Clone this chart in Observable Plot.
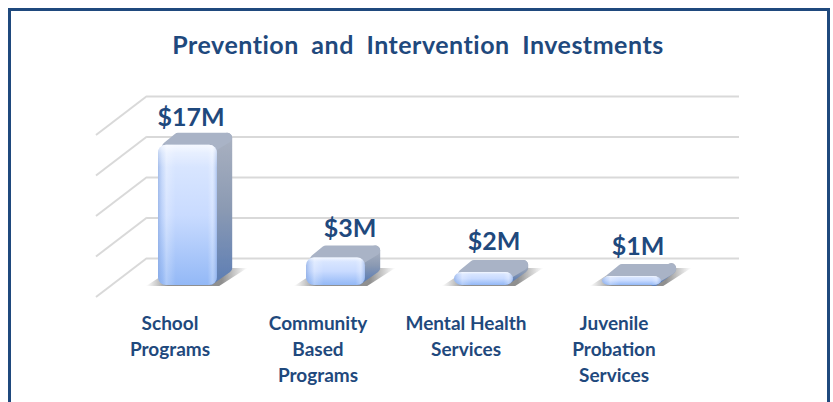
<!DOCTYPE html>
<html><head><meta charset="utf-8">
<script src="https://cdn.jsdelivr.net/npm/d3@7"></script>
<script src="https://cdn.jsdelivr.net/npm/@observablehq/plot@0.6"></script>
<style>
html,body{margin:0;padding:0;background:#fff;overflow:hidden;width:833px;height:402px}
#frame{position:absolute;left:8px;top:8px;width:816px;height:420px;border:3px solid #1f497d;box-sizing:content-box}
#title{position:absolute;left:0;width:836px;top:29px;text-align:center;font:bold 25px Lato,sans-serif;color:#1f497d;word-spacing:6px;letter-spacing:.5px}
#chart{position:absolute;left:0;top:0}
#chart svg{background:transparent;display:block}
</style></head>
<body>
<div id="frame"></div>
<div id="title">Prevention and Intervention Investments</div>
<div id="chart"></div>
<script>
const categories = ["School Programs","Community Based Programs","Mental Health Services","Juvenile Probation Services"];
const tickLabels = ["School\nPrograms","Community\nBased\nPrograms","Mental Health\nServices","Juvenile\nProbation\nServices"];
const values = [17.3,3.4,1.6,1.1];
const gridValues = [0,5,10,15,20];
const labelShift = [3,14,10,6];
const labelLift = [-27,-29,-31,-30];
const navy = "#1f497d";
const gapRatio = .6;
const rows = categories.map((c,i)=>({c,v:values[i]}));

function defs(){
  const s = d3.create("svg:g");
  const d = s.append("defs");
  const grad=(id,horizontal,stops)=>{
    const g=d.append("linearGradient").attr("id",id).attr("x1",0).attr("y1",0)
      .attr("x2",horizontal?1:0).attr("y2",horizontal?0:1);
    stops.forEach(([o,c,a])=>g.append("stop").attr("offset",o).attr("stop-color",c).attr("stop-opacity",a??1));
  };
  grad("front",false,[[0,"#dfeaff"],[.5,"#c9dbff"],[1,"#93b8f6"]]);
  grad("bevel",true,[[0,"#7fa0dc",.6],[.07,"#8fb0e8",.2],[.14,"#ffffff",.25],[.3,"#ffffff",0],[.84,"#ffffff",0],[.92,"#ffffff",.25],[1,"#7fa0dc",.5]]);
  grad("shine",false,[[0,"#ffffff",.7],[.06,"#ffffff",.3],[.16,"#ffffff",0],[1,"#ffffff",0]]);
  grad("side",false,[[0,"#a8b0c0"],[.5,"#8b9ab3"],[1,"#5f7fb4"]]);
  grad("shadow",true,[[0,"#8a8a8a",0],[.22,"#7c7c7c",.85],[.75,"#7c7c7c",.85],[1,"#8a8a8a",0]]);
  const f=d.append("filter").attr("id","soft").attr("x","-10%").attr("y","-10%").attr("width","120%").attr("height","120%");
  f.append("feGaussianBlur").attr("stdDeviation",.6);
  return s.node();
}

// Receding left wall, tied to the y scale
function wall(index,scales,vals,dims){
  const g=d3.create("svg:g").attr("stroke","#d9d9d9").attr("stroke-width",2).attr("fill","none");
  for(const t of gridValues){
    const y=scales.y(t);
    g.append("line").attr("x1",dims.marginLeft-18).attr("y1",y+12)
      .attr("x2",dims.marginLeft+33).attr("y2",y-27);
  }
  return g.node();
}

// Floor shadow, side and top faces of each bar, from the x and y scales
function bodies(index,scales){
  const g=d3.create("svg:g").attr("filter","url(#soft)");
  const bw=(scales.x(categories[1])-scales.x(categories[0]))*(1-gapRatio), D=[15,12], b=scales.y(0);
  for(const r of rows){
    const x0=scales.x(r.c), x1=x0+bw;
    g.append("polygon").attr("points",[[x0-12,b+1],[x1+2,b+1],[x1+30,b-17],[x0+16,b-17]].join(" ")).attr("fill","url(#shadow)");
  }
  for(const r of rows){
    const x0=scales.x(r.c), x1=x0+bw, t=scales.y(r.v), R=5;
    g.append("polygon").attr("points",[[x1-R-2,t+R],[x1+D[0]-R,t-D[1]+R],[x1+D[0]-R,b-D[1]-R],[x1-R-2,b-R]].join(" "))
      .attr("fill","url(#side)").attr("stroke","url(#side)").attr("stroke-width",2*R).attr("stroke-linejoin","round");
    g.append("polygon").attr("points",[[x0+R+4,t+2],[x0+D[0]+R,t-D[1]+R],[x1+D[0]-R,t-D[1]+R],[x1-R,t+2]].join(" "))
      .attr("fill","#a9b3c6").attr("stroke","#a9b3c6").attr("stroke-width",2*R).attr("stroke-linejoin","round");
  }
  return g.node();
}

const chart = Plot.plot({
  width:833,height:402,
  marginLeft:114,marginRight:127,marginTop:123,marginBottom:117,
  style:{background:"transparent"},
  x:{domain:categories,paddingInner:gapRatio,paddingOuter:.3},
  y:{domain:[0,20],axis:null},
  marks:[
    defs,
    Plot.ruleY(gridValues,{dx:33,dy:-27,stroke:"#d9d9d9",strokeWidth:2,strokeOpacity:1}),
    wall,
    bodies,
    Plot.barY(rows,{x:"c",y:"v",fill:"url(#front)",rx:8}),
    Plot.barY(rows,{x:"c",y:"v",fill:"url(#bevel)",rx:8}),
    Plot.barY(rows,{x:"c",y:"v",fill:"url(#shine)",rx:8}),
    ...rows.map((r,i)=>Plot.text([r],{x:"c",y:"v",text:d=>`$${Math.round(d.v)}M`,dx:labelShift[i],dy:labelLift[i],
      fill:navy,fontSize:25,fontWeight:700,fontFamily:"Lato"})),
    Plot.axisX({anchor:"bottom",tickSize:0,tickPadding:26,dx:-18,lineHeight:1.37,lineAnchor:"top",
      tickFormat:(d)=>tickLabels[categories.indexOf(d)],label:null,
      fill:navy,fontSize:19,fontWeight:700,fontFamily:"Lato"})
  ]
});
document.getElementById("chart").appendChild(chart);
</script>
</body></html>
